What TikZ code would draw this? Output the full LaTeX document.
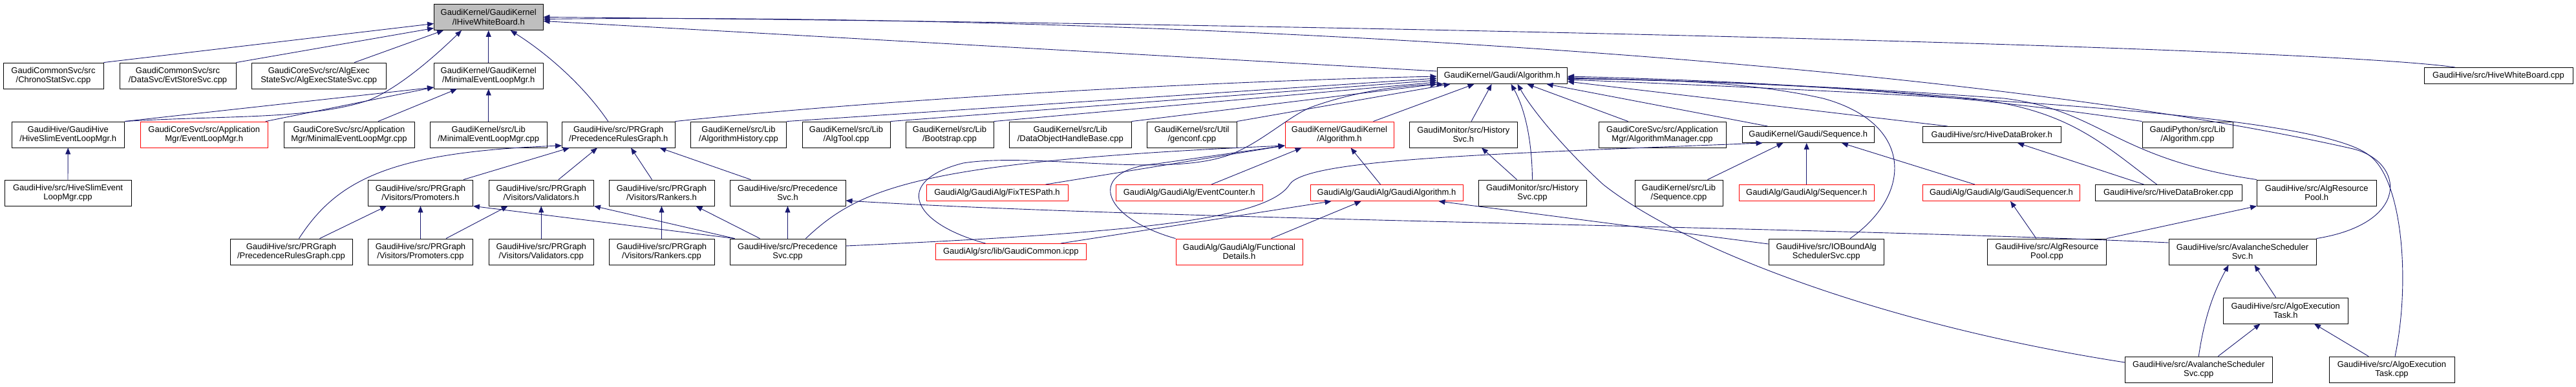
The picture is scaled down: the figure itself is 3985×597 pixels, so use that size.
\documentclass[tikz,border=0pt]{standalone}
\usepackage{fontspec}
\setmainfont{Liberation Sans}
\usetikzlibrary{arrows.meta}
\definecolor{midnightblue}{HTML}{191970}
\tikzset{
  filebox/.style={draw=black, fill=white, line width=0.9pt, inner sep=0pt, align=center,
    minimum height=40pt, font=\fontsize{13}{14.5}\selectfont},
  onebox/.style={filebox, minimum height=25pt},
  redbox/.style={filebox, draw=red},
  redone/.style={onebox, draw=red},
  curbox/.style={filebox, fill=black!25},
  incl/.style={draw=midnightblue, line width=0.9pt, -{Triangle[length=10pt,width=8pt]}}
}

\begin{document}
\begin{tikzpicture}[x=1pt,y=-1pt]
			%%%%% START %%%%%
			\useasboundingbox (0,0) rectangle (3985,597);

			% row 0 and 1
			\node[curbox, minimum width=168.5pt] (whb) at (755.75,26.5) {GaudiKernel/GaudiKernel\\/IHiveWhiteBoard.h};
			\node[filebox, minimum width=155pt] (chrono) at (82.5,117) {GaudiCommonSvc/src\\/ChronoStatSvc.cpp};
			\node[filebox, minimum width=180pt] (evtstore) at (275,117) {GaudiCommonSvc/src\\/DataSvc/EvtStoreSvc.cpp};
			\node[filebox, minimum width=207.5pt] (algexec) at (493.25,117) {GaudiCoreSvc/src/AlgExec\\StateSvc/AlgExecStateSvc.cpp};
			\node[filebox, minimum width=168.5pt] (minelmh) at (755.75,117) {GaudiKernel/GaudiKernel\\/MinimalEventLoopMgr.h};
			\node[onebox, minimum width=201.5pt] (galg) at (2323.75,117) {GaudiKernel/Gaudi/Algorithm.h};
			\node[onebox, minimum width=230pt] (whbcpp) at (3865,117) {GaudiHive/src/HiveWhiteBoard.cpp};

			% row 2
			\node[filebox, minimum width=174.5pt] (hiveslimh) at (105.25,208) {GaudiHive/GaudiHive\\/HiveSlimEventLoopMgr.h};
			\node[redbox, minimum width=197.5pt] (elmh) at (315.75,208) {GaudiCoreSvc/src/Application\\Mgr/EventLoopMgr.h};
			\node[filebox, minimum width=202pt] (minelmcore) at (540,208) {GaudiCoreSvc/src/Application\\Mgr/MinimalEventLoopMgr.cpp};
			\node[filebox, minimum width=180.5pt] (minelmlib) at (755.75,208) {GaudiKernel/src/Lib\\/MinimalEventLoopMgr.cpp};
			\node[filebox, minimum width=174.5pt] (prgh) at (956.75,208) {GaudiHive/src/PRGraph\\/PrecedenceRulesGraph.h};
			\node[filebox, minimum width=148pt] (alghist) at (1142.5,208) {GaudiKernel/src/Lib\\/AlgorithmHistory.cpp};
			\node[filebox, minimum width=136pt] (algtool) at (1309,208) {GaudiKernel/src/Lib\\/AlgTool.cpp};
			\node[filebox, minimum width=136pt] (bootstrap) at (1469,208) {GaudiKernel/src/Lib\\/Bootstrap.cpp};
			\node[filebox, minimum width=188.5pt] (dohb) at (1655.75,208) {GaudiKernel/src/Lib\\/DataObjectHandleBase.cpp};
			\node[filebox, minimum width=138.5pt] (genconf) at (1843.75,208) {GaudiKernel/src/Util\\/genconf.cpp};
			\node[redbox, minimum width=168pt] (gkalg) at (2072,208) {GaudiKernel/GaudiKernel\\/Algorithm.h};
			\node[filebox, minimum width=166.5pt] (histsvch) at (2263.75,208) {GaudiMonitor/src/History\\Svc.h};
			\node[filebox, minimum width=197pt] (algmgr) at (2571.5,208) {GaudiCoreSvc/src/Application\\Mgr/AlgorithmManager.cpp};
			\node[onebox, minimum width=204.5pt] (seqh) at (2797.25,208) {GaudiKernel/Gaudi/Sequence.h};
			\node[onebox, minimum width=213.5pt] (hdbh) at (3081.25,208) {GaudiHive/src/HiveDataBroker.h};
			\node[filebox, minimum width=140pt] (gpalg) at (3384,208) {GaudiPython/src/Lib\\/Algorithm.cpp};

			% row 3
			\node[filebox, minimum width=196pt] (slimcpp) at (105,298) {GaudiHive/src/HiveSlimEvent\\LoopMgr.cpp};
			\node[filebox, minimum width=162pt] (promh) at (650.5,298) {GaudiHive/src/PRGraph\\/Visitors/Promoters.h};
			\node[filebox, minimum width=162.5pt] (valh) at (837.25,298) {GaudiHive/src/PRGraph\\/Visitors/Validators.h};
			\node[filebox, minimum width=163pt] (rankh) at (1023.5,298) {GaudiHive/src/PRGraph\\/Visitors/Rankers.h};
			\node[filebox, minimum width=179pt] (precsvch) at (1218.5,298) {GaudiHive/src/Precedence\\Svc.h};
			\node[redone, minimum width=219pt] (fixtes) at (1542.5,298) {GaudiAlg/GaudiAlg/FixTESPath.h};
			\node[redone, minimum width=227.5pt] (evcount) at (1839.75,298) {GaudiAlg/GaudiAlg/EventCounter.h};
			\node[redone, minimum width=236pt] (gaudialg) at (2145,298) {GaudiAlg/GaudiAlg/GaudiAlgorithm.h};
			\node[filebox, minimum width=167pt] (histsvccpp) at (2370.5,298) {GaudiMonitor/src/History\\Svc.cpp};
			\node[filebox, minimum width=136pt] (seqcpp) at (2597,298) {GaudiKernel/src/Lib\\/Sequence.cpp};
			\node[redone, minimum width=209.5pt] (sequencer) at (2794.75,298) {GaudiAlg/GaudiAlg/Sequencer.h};
			\node[redone, minimum width=243pt] (gseq) at (3096,298) {GaudiAlg/GaudiAlg/GaudiSequencer.h};
			\node[onebox, minimum width=227pt] (hdbcpp) at (3354.5,298) {GaudiHive/src/HiveDataBroker.cpp};
			\node[filebox, minimum width=184.5pt] (arph) at (3583.75,298) {GaudiHive/src/AlgResource\\Pool.h};

			% row 4
			\node[filebox, minimum width=189pt] (prgcpp) at (450.5,389) {GaudiHive/src/PRGraph\\/PrecedenceRulesGraph.cpp};
			\node[filebox, minimum width=162pt] (promcpp) at (650.5,389) {GaudiHive/src/PRGraph\\/Visitors/Promoters.cpp};
			\node[filebox, minimum width=162.5pt] (valcpp) at (837.25,389) {GaudiHive/src/PRGraph\\/Visitors/Validators.cpp};
			\node[filebox, minimum width=163pt] (rankcpp) at (1023.5,389) {GaudiHive/src/PRGraph\\/Visitors/Rankers.cpp};
			\node[filebox, minimum width=179pt] (precsvccpp) at (1218.5,389) {GaudiHive/src/Precedence\\Svc.cpp};
			\node[redone, minimum width=233.5pt] (gcommon) at (1563.75,389) {GaudiAlg/src/lib/GaudiCommon.icpp};
			\node[redbox, minimum width=196pt] (functdet) at (1917,389) {GaudiAlg/GaudiAlg/Functional\\Details.h};
			\node[filebox, minimum width=178.5pt] (ioboundcpp) at (2825.25,389) {GaudiHive/src/IOBoundAlg\\SchedulerSvc.cpp};
			\node[filebox, minimum width=184pt] (arpcpp) at (3166.5,389) {GaudiHive/src/AlgResource\\Pool.cpp};
			\node[filebox, minimum width=228pt] (avah) at (3469,389) {GaudiHive/src/AvalancheScheduler\\Svc.h};

			% rows 5 and 6
			\node[filebox, minimum width=193.5pt] (aeth) at (3535.75,480) {GaudiHive/src/AlgoExecution\\Task.h};
			\node[filebox, minimum width=227.5pt] (avacpp) at (3401.25,571) {GaudiHive/src/AvalancheScheduler\\Svc.cpp};
			\node[filebox, minimum width=194pt] (aetcpp) at (3700,571) {GaudiHive/src/AlgoExecution\\Task.cpp};

			% into IHiveWhiteBoard.h
			\draw[incl] (chrono.north east) -- ([yshift=-10pt]whb.west);
			\draw[incl] (evtstore.north east) -- ([yshift=-17pt]whb.west);
			\draw[incl] ([xshift=55pt]algexec.north) -- ([xshift=15pt]whb.south west);
			\draw[incl] (hiveslimh.north east) .. controls (350,178) and (480,185) .. (570,155) .. controls (620,135) and (680,80) .. ([xshift=43pt]whb.south west);
			\draw[incl] (minelmh.north) -- (whb.south);
			\draw[incl] ([xshift=-16pt]prgh.north) .. controls (905,135) and (850,85) .. ([xshift=34pt]whb.south);
			\draw[incl] ([yshift=7pt]galg.west) -- ([yshift=-6pt]whb.east);
			\draw[incl] ([xshift=-67pt]whbcpp.north) .. controls (3600,75) and (2200,38) .. (whb.east);
			\draw[incl] (avah.north east) .. controls (3730,345) and (3720,250) .. (3640,230) .. controls (3000,85) and (1700,20) .. ([yshift=-3pt]whb.east);

			% into MinimalEventLoopMgr.h and HiveSlimEventLoopMgr.h
			\draw[incl] (hiveslimh.north east) -- ([yshift=-18pt]minelmh.west);
			\draw[incl] ([xshift=-4pt]elmh.north east) -- ([yshift=-18pt]minelmh.west);
			\draw[incl] ([xshift=45pt]minelmcore.north) -- ([xshift=36pt]minelmh.south west);
			\draw[incl] (minelmlib.north) -- (minelmh.south);
			\draw[incl] (slimcpp.north) -- (hiveslimh.south);

			% PRGraph
			\draw[incl] ([xshift=12pt]prgcpp.north) .. controls (520,280) and (600,235) .. ([yshift=-17pt]prgh.west);
			\draw[incl] ([xshift=-15pt]promh.north east) -- ([xshift=12pt]prgh.south west);
			\draw[incl] ([xshift=-55pt]valh.north east) -- ([xshift=55pt]prgh.south west);
			\draw[incl] ([xshift=67pt]rankh.north west) -- ([xshift=107pt]prgh.south west);
			\draw[incl] ([xshift=33pt]precsvch.north west) -- ([xshift=-24pt]prgh.south east);
			\draw[incl] ([xshift=44pt]prgcpp.north) -- ([xshift=29pt]promh.south west);
			\draw[incl] (promcpp.north) -- (promh.south);
			\draw[incl] ([xshift=8pt]precsvccpp.north west) -- (promh.south east);
			\draw[incl] ([xshift=-42pt]promcpp.north east) -- ([xshift=30pt]valh.south west);
			\draw[incl] (valcpp.north) -- (valh.south);
			\draw[incl] ([xshift=8pt]precsvccpp.north west) -- (valh.south east);
			\draw[incl] (rankcpp.north) -- (rankh.south);
			\draw[incl] ([xshift=47pt]precsvccpp.north west) -- ([xshift=-29pt]rankh.south east);
			\draw[incl] (precsvccpp.north) -- (precsvch.south);
			\draw[incl] ([yshift=14pt]avah.west) .. controls (2800,350) and (1800,340) .. ([yshift=-12pt]precsvch.east);
			\draw[incl] ([xshift=-62pt]precsvccpp.north east) .. controls (1330,290) and (1420,250) .. ([yshift=-17pt]gkalg.west);
			\draw[incl] ([yshift=9pt]precsvccpp.east) .. controls (1750,360) and (1960,340) .. (1995,285) .. controls (2020,246) and (2300,238) .. ([xshift=32pt]seqh.south west);

			% into Gaudi/Algorithm.h from the left
			\draw[incl] (prgh.north east) .. controls (1400,150) and (1900,125) .. ([yshift=-1pt]galg.west);
			\draw[incl] (alghist.north east) -- ([yshift=-4pt]galg.west);
			\draw[incl] (algtool.north east) -- ([yshift=-7pt]galg.west);
			\draw[incl] (bootstrap.north east) -- ([yshift=-10pt]galg.west);
			\draw[incl] (dohb.north east) -- (galg.south west);
			\draw[incl] (genconf.north east) -- ([xshift=21pt]galg.south west);

			% GaudiAlg headers
			\draw[incl] ([xshift=-32pt]gkalg.north east) -- ([xshift=58pt]galg.south west);
			\draw[incl] ([xshift=-35pt]fixtes.north east) -- ([yshift=-17pt]gkalg.west);
			\draw[incl] ([xshift=-80pt]evcount.north east) -- ([xshift=26pt]gkalg.south west);
			\draw[incl] (functdet.north west) .. controls (1700,335) and (1680,262) .. (1790,253) -- ([yshift=-17pt]gkalg.west);
			\draw[incl] ([xshift=109pt]gaudialg.north west) -- ([xshift=102pt]gkalg.south west);
			\draw[incl] ([xshift=78pt]gcommon.north west) .. controls (1410,345) and (1380,280) .. (1490,252) .. controls (1600,235) and (1800,275) .. (1900,240) .. controls (1950,222) and (1995,178) .. (2030,165) .. controls (2100,140) and (2170,132) .. ([xshift=10pt]galg.south west);
			\draw[incl] ([xshift=-40pt]gcommon.north east) -- ([xshift=33pt]gaudialg.south west);
			\draw[incl] ([xshift=-49pt]functdet.north east) -- ([xshift=79pt]gaudialg.south west);
			\draw[incl] ([yshift=12pt]ioboundcpp.west) -- ([xshift=-38pt]gaudialg.south east);
			\draw[incl] ([xshift=-53pt]ioboundcpp.north east) .. controls (2960,300) and (2960,190) .. (2820,152) .. controls (2700,125) and (2550,122) .. ([yshift=-5pt]galg.east);

			% into Gaudi/Algorithm.h from below and the right
			\draw[incl] ([xshift=96pt]histsvch.north west) -- ([xshift=85pt]galg.south west);
			\draw[incl] ([xshift=60pt]histsvccpp.north west) -- ([xshift=112pt]histsvch.south west);
			\draw[incl] (histsvccpp.north) .. controls (2370,220) and (2360,170) .. ([xshift=115pt]galg.south west);
			\draw[incl] ([yshift=11pt]avacpp.west) .. controls (2900,500) and (2600,380) .. (2480,285) .. controls (2420,230) and (2370,170) .. ([xshift=125pt]galg.south west);
			\draw[incl] ([xshift=46pt]algmgr.north west) -- ([xshift=140pt]galg.south west);
			\draw[incl] ([xshift=40pt]seqh.north west) -- ([xshift=170pt]galg.south west);
			\draw[incl] ([xshift=39pt]hdbh.north west) -- ([yshift=-9pt]galg.east);
			\draw[incl] (gpalg.north west) .. controls (3000,140) and (2700,125) .. ([yshift=-1pt]galg.east);
			\draw[incl] ([xshift=96pt]hdbcpp.north west) .. controls (3250,220) and (3200,170) .. (3050,152) .. controls (2800,130) and (2600,125) .. ([yshift=-3pt]galg.east);
			\draw[incl] (arph.north west) .. controls (3270,245) and (3250,170) .. (3100,152) .. controls (2800,130) and (2600,125) .. ([yshift=-4pt]galg.east);
			\draw[incl] ([xshift=5pt]aetcpp.north) .. controls (3730,430) and (3715,275) .. (3665,240) .. controls (3590,180) and (3100,150) .. ([yshift=-6pt]galg.east);

			% Sequence, data broker, resource pool
			\draw[incl] ([xshift=-24pt]seqcpp.north east) -- ([xshift=64pt]seqh.south west);
			\draw[incl] (sequencer.north) -- ([xshift=-2.5pt]seqh.south);
			\draw[incl] ([xshift=81pt]gseq.north west) -- ([xshift=-51pt]seqh.south east);
			\draw[incl] ([xshift=76pt]arpcpp.north west) -- ([xshift=136pt]gseq.south west);
			\draw[incl] (arpcpp.north east) -- (arph.south west);
			\draw[incl] ([xshift=76pt]hdbcpp.north west) -- ([xshift=147pt]hdbh.south west);

			% scheduler
			\draw[incl] ([xshift=82pt]aeth.north west) -- ([xshift=133pt]avah.south west);
			\draw[incl] (avacpp.north) .. controls (3410,490) and (3425,450) .. ([xshift=93pt]avah.south west);
			\draw[incl] ([xshift=30pt]avacpp.north) -- ([xshift=58pt]aeth.south west);
			\draw[incl] ([xshift=-36pt]aetcpp.north) -- ([xshift=-53pt]aeth.south east);

			%%%%% END %%%%%
\end{tikzpicture}
\end{document}
